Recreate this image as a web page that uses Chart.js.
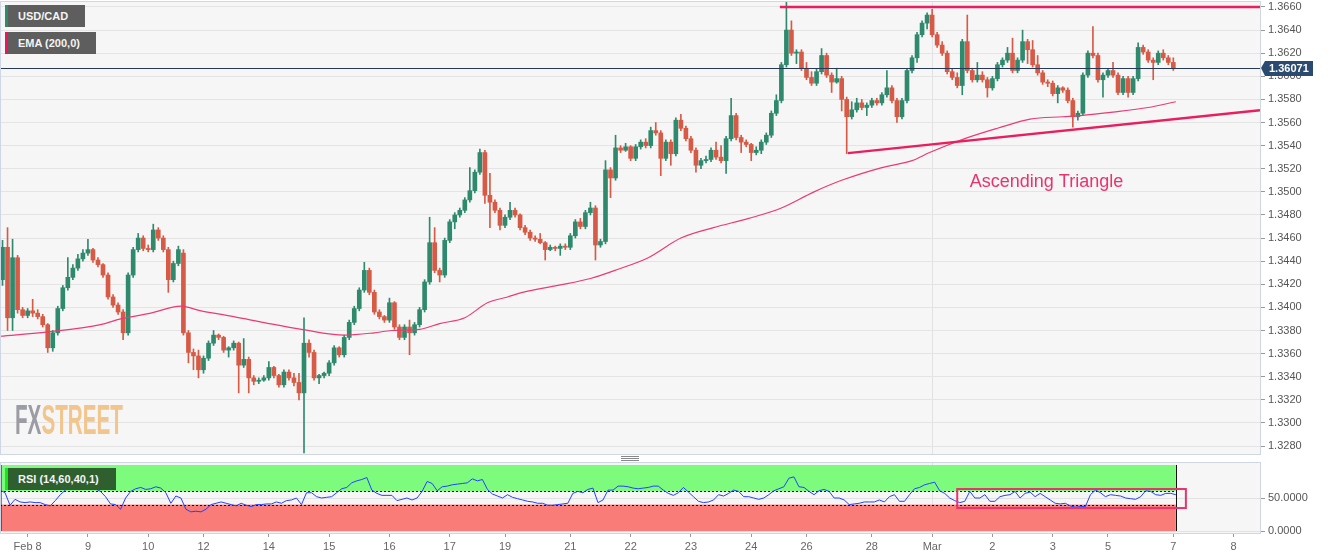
<!DOCTYPE html>
<html>
<head>
<meta charset="utf-8">
<title>USD/CAD</title>
<script src="https://cdn.jsdelivr.net/npm/chart.js"></script>
<style>
  body { margin: 0; background: #fff; width: 1331px; height: 558px; overflow: hidden; position: relative;
         font-family: "Liberation Sans", Arial, sans-serif; }
  canvas { position: absolute; left: 0; }
  #mainChart { top: 0; }
  #rsiChart { top: 458px; }
  .tag { position: absolute; left: 5px; height: 22px; line-height: 22px; color: #f4f4f4; font-weight: bold;
         font-size: 11px; padding-left: 10px; box-sizing: border-box; border-left: 3px solid; }
  #wm { position: absolute; left: 15px; top: 398px; font: bold 43px "Liberation Sans", Arial, sans-serif;
        line-height: 43px; transform: scaleX(0.48); transform-origin: left top; white-space: nowrap; }
  #grip { position: absolute; left: 621px; top: 456px; width: 18px; height: 5px;
          border-top: 1px solid #888; border-bottom: 1px solid #888; box-sizing: border-box; }
  #grip::after { content: ""; position: absolute; left: 0; right: 0; top: 1px; border-top: 1px solid #888; }
</style>
</head>
<body>
<canvas id="mainChart" width="1331" height="458"></canvas>
<canvas id="rsiChart" width="1331" height="100"></canvas>
<div class="tag" style="top:5px;width:80px;background:#5e5e5e;border-color:#2e8a6e">USD/CAD</div>
<div class="tag" style="top:32px;width:91px;background:#5e5e5e;border-color:#e8175d">EMA (200,0)</div>
<div class="tag" style="top:468px;width:111px;background:#2f5f2f;border-color:#19e619">RSI (14,60,40,1)</div>
<div id="wm"><span style="color:#9c9ca4">FX</span><span style="color:#f2c58c">STREET</span></div>
<div id="grip"></div>
<script>
// prices are kept in pips above 1.3000, one candle every 2 trading hours
const BASE = 1.3;
const PIP = 0.0001;

const opens = [424,452,391,443,398,393,397,395,392,385, 365,378,399,417,426,434,442,447,450,441,
  437,428,409,402,396,378,428,450,460,451, 450,467,460,450,424,438,447,378,361,358,
  346,356,369,376,374,363,365,369,350,355, 339,336,337,339,348,341,333,344,339,335,
  326,369,361,339,341,343,352,365,359,374, 387,399,415,432,413,396,392,389,404,383,
  374,383,378,385,398,422,456,432,428,458, 474,480,484,493,501,517,534,497,491,484,
  471,478,484,480,469,465,460,459,456,450, 452,451,453,452,462,474,470,482,486,454,
  457,519,512,538,536,539,529,539,543,540, 553,551,529,543,533,562,555,546,536,523,
  527,528,536,530,527,546,566,547,543,541, 534,536,543,549,568,579,610,640,620,621,
  607,599,594,604,618,601,595,598,580,565, 571,577,573,575,579,577,584,590,579,565,
  579,605,616,636,646,653,636,627,620,604, 599,592,630,605,597,601,597,590,598,610,
  614,620,605,614,630,623,610,603,595,594, 585,590,588,579,565,568,601,620,618,597,
  601,605,601,586,598,586,598,625,621,614, 612,620,616,612];
const highs = [458,469,459,445,400,399,407,398,394,386, 380,401,419,443,437,446,450,459,451,443,
  438,430,411,404,398,430,452,464,462,454, 472,469,462,452,440,453,450,380,364,363,
  358,371,380,377,375,366,371,370,373,357, 341,339,341,353,349,342,346,346,343,343,
  391,372,363,342,344,354,367,366,376,389, 401,417,439,434,415,398,393,408,405,385,
  385,389,387,400,424,478,469,434,460,476, 482,486,495,521,519,537,536,516,493,486,
  480,491,486,481,471,467,462,464,457,454, 453,455,455,464,476,477,484,491,488,459,
  527,521,549,540,542,540,541,545,546,556, 560,553,545,545,564,567,557,548,538,529,
  531,538,543,540,548,581,568,549,545,542, 539,545,551,570,584,612,664,648,623,623,
  612,604,606,624,620,603,607,600,582,578, 581,580,577,581,581,586,605,592,581,581,
  607,618,638,648,655,658,638,630,622,606, 603,632,653,607,612,604,599,600,612,616,
  625,633,616,640,632,631,618,605,597,596, 592,591,590,581,570,603,622,643,620,603,
  607,612,603,600,600,600,629,627,623,616, 622,623,618,616];
const lows = [419,380,380,395,391,391,392,390,383,361, 362,376,397,415,424,432,440,445,439,435,
  426,407,400,394,372,376,426,448,449,448, 448,458,448,413,422,436,376,352,346,339,
  343,354,367,372,361,357,363,326,348,326, 333,334,336,337,339,331,331,337,332,320,
  274,357,337,334,339,341,350,357,357,372, 385,397,413,411,394,390,387,387,381,372,
  372,359,376,383,396,420,430,422,426,456, 468,478,482,491,499,515,490,469,482,467,
  469,476,478,467,463,458,457,455,441,449, 449,445,450,450,460,468,468,480,441,452,
  455,495,510,534,535,527,527,537,538,538, 549,514,527,523,531,553,544,534,517,520,
  525,526,528,525,516,544,545,534,539,527, 532,533,541,547,566,577,608,618,611,605,
  597,592,592,602,599,586,594,570,533,563, 569,571,566,573,575,575,582,577,560,563,
  577,603,612,634,641,634,625,618,602,597, 590,584,603,595,595,595,582,588,596,608,
  612,603,603,612,611,608,601,593,591,583, 577,586,577,556,562,566,599,616,595,582,
  599,599,584,584,582,584,596,619,612,597, 610,614,610,605];
const closes = [452,391,443,398,393,397,395,392,385,365, 378,399,417,426,434,442,447,450,441,437,
  428,409,402,396,378,428,450,460,451,450, 467,460,450,424,438,450,378,361,358,346,
  356,369,376,374,363,365,369,350,355,339, 336,337,339,348,341,333,344,339,335,326,
  369,361,339,341,343,352,365,359,374,387, 399,415,432,413,396,392,389,404,383,374,
  383,378,385,398,422,456,432,428,458,474, 480,484,493,501,517,534,497,491,484,471,
  478,484,480,469,465,460,459,456,450,452, 451,453,452,462,474,470,482,486,454,457,
  519,512,538,536,539,529,539,543,540,553, 551,529,543,533,562,555,546,536,523,527,
  528,536,530,527,546,566,547,543,541,534, 536,543,549,568,579,610,640,620,621,607,
  599,594,604,618,601,595,598,580,565,571, 577,573,575,579,577,584,590,579,565,579,
  605,616,636,646,653,636,627,620,604,599, 592,630,605,597,601,597,590,598,610,614,
  620,605,614,630,623,610,603,595,594,585, 590,588,579,565,568,601,620,618,597,601,
  605,601,586,598,586,598,625,621,614,612, 620,616,612,607.1];

// EMA(200) read at a few places along the curve (trading hours, pips)
const emaHours = [0,20,40,48,60,72,80,93,107,120,137,149,156,167,175,185,194,202,208,222,
  235,246,258,271,284,298,311,324,335,351,363,370,384,397,410,423,430,443,457,468];
const emaPips = [375,379,385,390,395,401,397,392,386,381,376,378,380,381,386,391,404,409,413,419,
  425,433,443,460,469,477,486,500,510,521,527,534,546,555,563,565,566,569,573,578];

// drawn trendlines
const resistanceHours = [310.4, 501.5];
const resistancePips = [660, 660];
const supportHours = [337.5, 501.5];
const supportPips = [533.5, 570.7];

// RSI(14), one reading every 2 trading hours
const rsiValues = [62,58,39,48,44,43,44,43,43,40, 38,46,55,62,66,67,68,68,66,64,
  60,52,41,40,33,50,60,64,66,63, 64,67,65,58,42,53,50,33,29,30,
  29,33,40,42,44,42,40,38,42,39, 37,40,40,41,41,44,42,46,47,50,
  40,58,58,52,50,51,52,58,64,66, 73,76,78,81,62,57,54,54,54,46,
  48,50,47,50,60,75,72,61,67,68, 70,71,72,73,79,76,78,63,56,53,
  50,55,51,49,47,45,44,42,42,39, 39,40,41,42,57,60,58,63,65,43,
  47,62,62,68,68,67,65,64,65,66, 68,68,62,57,54,58,66,59,52,45,
  43,44,47,55,53,57,62,60,52,52, 50,48,50,55,61,64,67,80,82,67,
  66,60,55,61,63,60,50,50,47,40, 41,42,44,44,44,47,44,52,55,45,
  45,55,64,66,70,72,74,61,57,50, 46,43,45,60,50,50,55,45,45,52,
  54,55,60,50,57,59,52,57,52,47, 42,41,42,38,36,37,37,55,62,58,
  52,55,54,53,50,49,48,52,61,60, 55,54,57,57,55];
const rsiUpper = 60;
const rsiLower = 40;
const rsiBoxHours = [381, 472];
const rsiBoxLevels = [63.6, 34.8];

// axes
const dayHours = [11,35,59,81,107,131,155,179,201,227,251,275,299,321,347,371,395,419,441,467,491];
const dayLabels = ['Feb 8','9','10','12','14','15','16','17','19','21','22','23','24','26','28','Mar','2','3','5','7','8'];
const monthStartHour = 371;
const priceTicks = [1.328,1.330,1.332,1.334,1.336,1.338,1.340,1.342,1.344,1.346,1.348,1.350,
  1.352,1.354,1.356,1.358,1.360,1.362,1.364,1.366];
const rsiTicks = [0, 50];
const noteText = 'Ascending Triangle';
const noteHour = 386;
const notePips = 508.5;

const UP = '#2f8a6d';
const DOWN = '#d65a45';
const PINK = '#e91e5f';
const toPrice = p => BASE + p * PIP;
const lastPrice = toPrice(closes[closes.length - 1]);

Chart.defaults.font.family = '"Liberation Sans", Arial, sans-serif';

const plotBg = {
  id: 'plotBg',
  beforeDraw(chart) {
    const { ctx, chartArea: a } = chart;
    ctx.save();
    ctx.fillStyle = '#f6f6f6';
    ctx.fillRect(a.left, a.top, a.right - a.left, a.bottom - a.top);
    ctx.restore();
  },
  afterDraw(chart) {
    const { ctx, chartArea: a } = chart;
    ctx.save();
    ctx.strokeStyle = '#cfd6e6';
    ctx.lineWidth = 1;
    ctx.strokeRect(a.left + 0.5, a.top - 0.5, a.right - a.left, a.bottom - a.top + 1);
    ctx.restore();
  }
};

const lastPriceLine = {
  id: 'lastPriceLine',
  afterDatasetsDraw(chart) {
    const { ctx, chartArea: a, scales: { x, y } } = chart;
    const py = Math.round(y.getPixelForValue(lastPrice)) + 0.5;
    ctx.save();
    ctx.strokeStyle = '#26395a';
    ctx.lineWidth = 1;
    ctx.beginPath();
    ctx.moveTo(a.left, py);
    ctx.lineTo(a.right, py);
    ctx.stroke();
    // pattern label
    ctx.fillStyle = '#e8336d';
    ctx.font = '18px "Liberation Sans", Arial, sans-serif';
    ctx.textBaseline = 'middle';
    ctx.fillText(noteText, x.getPixelForValue(noteHour), y.getPixelForValue(toPrice(notePips)));
    ctx.restore();
  },
  afterDraw(chart) {
    const { ctx, chartArea: a, scales: { y } } = chart;
    const py = Math.round(y.getPixelForValue(lastPrice));
    ctx.save();
    ctx.fillStyle = '#2b4a6f';
    ctx.beginPath();
    ctx.moveTo(a.right + 1, py);
    ctx.lineTo(a.right + 5, py - 7);
    ctx.lineTo(a.right + 53, py - 7);
    ctx.lineTo(a.right + 53, py + 8);
    ctx.lineTo(a.right + 5, py + 8);
    ctx.closePath();
    ctx.fill();
    ctx.fillStyle = '#fff';
    ctx.font = 'bold 11px "Liberation Sans", Arial, sans-serif';
    ctx.textBaseline = 'middle';
    ctx.fillText(lastPrice.toFixed(5), a.right + 9, py + 1);
    ctx.restore();
  }
};

const candleColor = c => closes[c.dataIndex] >= opens[c.dataIndex] ? UP : DOWN;
const candleHour = i => 2 * i + 1;

new Chart(document.getElementById('mainChart'), {
  type: 'bar',
  data: {
    datasets: [
      {
        type: 'line', data: resistanceHours.map((h, i) => ({ x: h, y: toPrice(resistancePips[i]) })),
        borderColor: PINK, borderWidth: 2.5, pointRadius: 0, order: 0
      },
      {
        type: 'line', data: supportHours.map((h, i) => ({ x: h, y: toPrice(supportPips[i]) })),
        borderColor: PINK, borderWidth: 2.5, pointRadius: 0, order: 0
      },
      {
        type: 'line', data: emaHours.map((h, i) => ({ x: h, y: toPrice(emaPips[i]) })),
        borderColor: '#ec3a73', borderWidth: 1.2, pointRadius: 0, cubicInterpolationMode: 'monotone', order: 0
      },
      {
        data: lows.map((l, i) => ({ x: candleHour(i), y: [toPrice(l), toPrice(highs[i])] })),
        backgroundColor: candleColor, barThickness: 1, grouped: false, borderWidth: 0, order: 2
      },
      {
        data: opens.map((o, i) => ({ x: candleHour(i), y: [toPrice(o), toPrice(closes[i])] })),
        backgroundColor: candleColor, barThickness: 4, minBarLength: 1, grouped: false, borderWidth: 0, order: 1
      }
    ]
  },
  options: {
    responsive: false,
    animation: false,
    events: [],
    layout: { padding: { top: 2, bottom: 4, left: 0, right: 0 } },
    plugins: { legend: { display: false }, tooltip: { enabled: false } },
    scales: {
      x: {
        type: 'linear', min: 0, max: 501.5, offset: false,
        afterBuildTicks: s => { s.ticks = dayHours.map(v => ({ value: v })); },
        afterFit: s => { s.height = 0; s.paddingLeft = 0; s.paddingRight = 0; },
        ticks: { display: false },
        grid: { offset: false, drawTicks: false,
                color: c => (c.tick && c.tick.value === monthStartHour) ? '#e2e2e2' : 'rgba(0,0,0,0)' },
        border: { display: false }
      },
      y: {
        position: 'right', min: 1.32731, max: 1.36643,
        afterBuildTicks: s => { s.ticks = priceTicks.map(v => ({ value: v })); },
        afterFit: s => { s.width = 71; s.paddingTop = 0; s.paddingBottom = 0; },
        ticks: { callback: v => v.toFixed(4), color: '#555', font: { size: 11 }, padding: 3 },
        grid: { color: '#e4e4e4', tickLength: 5, tickColor: '#999' },
        border: { color: '#c9d1e2' }
      }
    }
  },
  plugins: [plotBg, lastPriceLine]
});

const rsiZones = {
  id: 'rsiZones',
  beforeDatasetsDraw(chart) {
    const { ctx, chartArea: a, scales: { x, y } } = chart;
    const xEnd = x.getPixelForValue(2 * (rsiValues.length - 1));
    const top = y.getPixelForValue(100), up = y.getPixelForValue(rsiUpper);
    const low = y.getPixelForValue(rsiLower), bot = y.getPixelForValue(0);
    ctx.save();
    ctx.fillStyle = '#7dfb7d';
    ctx.fillRect(a.left, top, xEnd - a.left, up - top);
    ctx.fillStyle = '#f97c78';
    ctx.fillRect(a.left, low, xEnd - a.left, bot - low);
    ctx.strokeStyle = '#111';
    ctx.lineWidth = 1;
    ctx.setLineDash([2, 2]);
    ctx.beginPath();
    ctx.moveTo(a.left, Math.round(up) + 0.5); ctx.lineTo(xEnd, Math.round(up) + 0.5);
    ctx.moveTo(a.left, Math.round(low) + 0.5); ctx.lineTo(xEnd, Math.round(low) + 0.5);
    ctx.stroke();
    ctx.setLineDash([]);
    ctx.beginPath();
    ctx.moveTo(Math.round(xEnd) + 0.5, top); ctx.lineTo(Math.round(xEnd) + 0.5, bot);
    ctx.moveTo(a.left + 1, top); ctx.lineTo(a.left + 1, bot);
    ctx.stroke();
    ctx.restore();
  },
  afterDatasetsDraw(chart) {
    const { ctx, scales: { x, y } } = chart;
    const x0 = x.getPixelForValue(rsiBoxHours[0]), x1 = x.getPixelForValue(rsiBoxHours[1]);
    const y0 = y.getPixelForValue(rsiBoxLevels[0]), y1 = y.getPixelForValue(rsiBoxLevels[1]);
    ctx.save();
    ctx.strokeStyle = '#e8336d';
    ctx.lineWidth = 2;
    ctx.strokeRect(x0, y0, x1 - x0, y1 - y0);
    ctx.restore();
  }
};

new Chart(document.getElementById('rsiChart'), {
  type: 'line',
  data: {
    datasets: [{
      data: rsiValues.map((v, k) => ({ x: 2 * k, y: v })),
      borderColor: '#2143ff', borderWidth: 1, pointRadius: 0, tension: 0
    }]
  },
  options: {
    responsive: false,
    animation: false,
    events: [],
    layout: { padding: { top: 5, bottom: 0, left: 0, right: 0 } },
    plugins: { legend: { display: false }, tooltip: { enabled: false } },
    scales: {
      x: {
        type: 'linear', min: 0, max: 501.5, offset: false,
        afterBuildTicks: s => { s.ticks = dayHours.map(v => ({ value: v })); },
        afterFit: s => { s.height = 25; s.paddingLeft = 0; s.paddingRight = 0; },
        ticks: { autoSkip: false, maxRotation: 0, color: '#666', font: { size: 11 }, padding: 3,
                 callback: (v, i) => dayLabels[i] },
        grid: { offset: false, color: c => (c.tick && c.tick.value === monthStartHour) ? '#e2e2e2' : 'rgba(0,0,0,0)',
                tickLength: 4, tickColor: '#999' },
        border: { color: '#c9d1e2' }
      },
      y: {
        position: 'right', min: -3.03, max: 103.03,
        afterBuildTicks: s => { s.ticks = rsiTicks.map(v => ({ value: v })); },
        afterFit: s => { s.width = 71; s.paddingTop = 0; s.paddingBottom = 0; },
        ticks: { callback: v => v.toFixed(4), color: '#555', font: { size: 11 }, padding: 3 },
        grid: { color: '#e2e2e2', tickLength: 5, tickColor: '#999' },
        border: { color: '#c9d1e2' }
      }
    }
  },
  plugins: [plotBg, rsiZones]
});
</script>
</body>
</html>
